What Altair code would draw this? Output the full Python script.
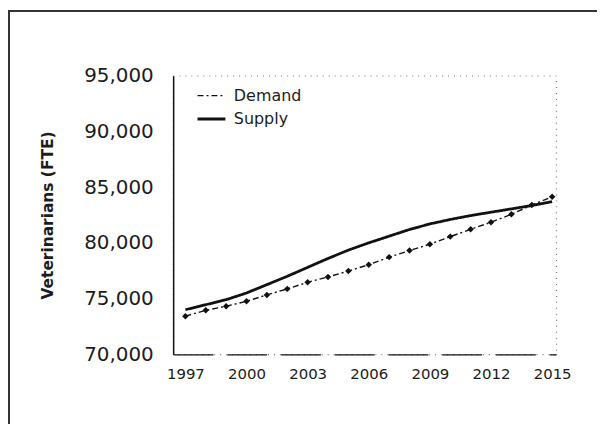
import altair as alt
import pandas as pd

years = list(range(1997, 2016))
demand = [73420, 73950, 74310, 74760, 75330, 75870, 76460, 76940, 77470, 78040,
          78720, 79310, 79880, 80560, 81220, 81850, 82560, 83390, 84130]
supply = [74000, 74450, 74900, 75500, 76250, 77000, 77800, 78600, 79350, 80000,
          80600, 81200, 81700, 82100, 82450, 82750, 83050, 83350, 83700]
series_names = ["Demand", "Supply"]
x_ticks = [1997, 2000, 2003, 2006, 2009, 2012, 2015]
y_ticks = [70000, 75000, 80000, 85000, 90000, 95000]

rows = []
for y, d, s in zip(years, demand, supply):
    rows.append({"year": y, "value": d, "series": "Demand"})
    rows.append({"year": y, "value": s, "series": "Supply"})
df = pd.DataFrame(rows)

FONT = "DejaVu Sans"
INK = "#1c1c1c"

x_enc = alt.X("year:Q", scale=alt.Scale(domain=[1996.4, 2015.2], nice=False, zero=False),
              axis=alt.Axis(values=x_ticks, format="d", title=None, grid=False, ticks=False,
                            labelFont=FONT, labelFontSize=15, labelColor=INK, labelPadding=12,
                            domainColor="#111", domainDash=[40, 14], domainWidth=1.2))
y_enc = alt.Y("value:Q", scale=alt.Scale(domain=[70000, 95000], nice=False, zero=False),
              axis=alt.Axis(values=y_ticks, format=",d", title="Veterinarians (FTE)", grid=False,
                            ticks=False, labelFont=FONT, labelFontSize=20, labelColor=INK,
                            labelPadding=20, domainColor="#111", domainWidth=1.5,
                            titleFont=FONT, titleFontSize=15.5, titleFontWeight="bold",
                            titleColor=INK, titleX=-126, titleY=140, titleBaseline="middle",
                            titleAlign="center", titleAngle=270))

dash_scale = alt.Scale(domain=series_names, range=[[6, 3, 2, 3], [1, 0]])
width_scale = alt.Scale(domain=series_names, range=[1.4, 2.8])

lines = alt.Chart(df).mark_line(color="#111").encode(
    x=x_enc, y=y_enc,
    strokeDash=alt.StrokeDash("series:N", scale=dash_scale,
                              legend=alt.Legend(title=None, orient="none", legendX=23, legendY=5,
                                                symbolType="stroke", symbolSize=784,
                                                symbolStrokeColor="#111", symbolStrokeWidth=2.2,
                                                labelFont=FONT, labelFontSize=16, labelColor=INK,
                                                labelOffset=7, rowPadding=0)),
    strokeWidth=alt.StrokeWidth("series:N", scale=width_scale, legend=None),
    detail="series:N",
)

points = alt.Chart(df).transform_filter(alt.datum.series == "Demand").mark_point(
    shape="diamond", filled=True, color="#111", size=42, opacity=1
).encode(x="year:Q", y="value:Q")

border = alt.Chart(alt.Data(values=[{"b": 1}])).mark_rect(
    filled=False, stroke="#333", strokeWidth=2
).encode(x=alt.value(-165), x2=alt.value(450), y=alt.value(-65), y2=alt.value(380))

chart = alt.layer(border, lines, points).properties(
    width=385, height=280,
    padding={"left": 166, "top": 67, "right": 41, "bottom": 69},
    autosize=alt.AutoSizeParams(type="none"),
    background="white",
).configure_view(
    stroke="#777", strokeDash=[1, 5], strokeWidth=1.2
)

chart.save("out.html", embed_options={"renderer": "svg", "actions": False})
